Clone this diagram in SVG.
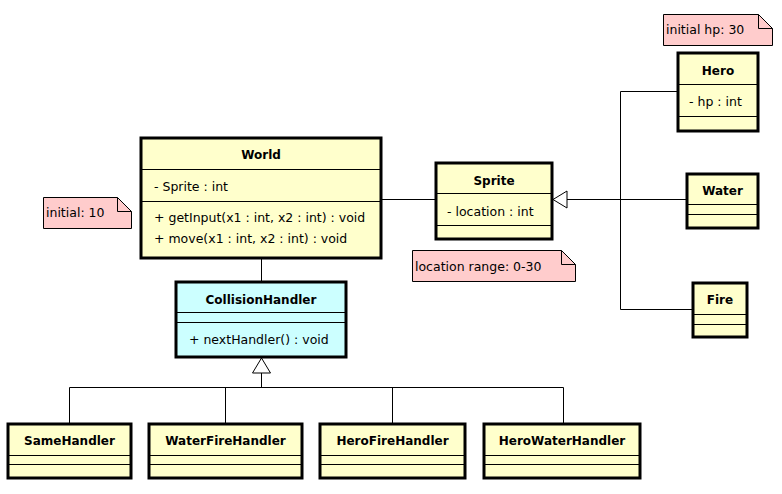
<svg xmlns="http://www.w3.org/2000/svg" width="782" height="494" viewBox="0 0 782 494">
<style>
.cls{fill:#ffffcc;stroke:#000;stroke-width:3}
.cls2{fill:#ccffff;stroke:#000;stroke-width:3}
.div{stroke:#000;stroke-width:1}
.t{font-family:"DejaVu Sans",Verdana,sans-serif;font-size:12px;font-weight:bold;text-anchor:middle;fill:#000}
.a{font-family:"DejaVu Sans",Verdana,sans-serif;font-size:12.5px;fill:#000}
.note{fill:#ffcccc;stroke:#000;stroke-width:1}
.c{fill:none;stroke:#000;stroke-width:1}
</style>
<rect width="782" height="494" fill="#fff"/>
<g id="connectors">
<path class="c" d="M381.5,199.5H436"/>
<path class="c" d="M567,199.5H687"/>
<path class="c" d="M677,91.5H620.5V309.5H692"/>
<path class="c" d="M261.5,258V281"/>
<path class="c" d="M261.5,373V387.5M69.5,423V387.5H563.5V423M225.5,387.5V423M392.5,387.5V423"/>
<path d="M553,199.5L567,191V208Z" fill="#fff" stroke="#000"/>
<path d="M261.5,358L252.5,373H270.5Z" fill="#fff" stroke="#000"/>
</g>
<g id="World">
<rect class="cls" x="141" y="138" width="240" height="120"/>
<line class="div" x1="141" y1="169.5" x2="381" y2="169.5"/>
<line class="div" x1="141" y1="201.5" x2="381" y2="201.5"/>
<text class="t" x="261" y="159">World</text>
<text class="a" x="154" y="191">- Sprite : int</text>
<text class="a" x="154" y="222">+ getInput(x1 : int, x2 : int) : void</text>
<text class="a" x="154" y="243">+ move(x1 : int, x2 : int) : void</text>
</g>
<g id="note-world">
<path class="note" d="M43.5,197.5H117.5L131.5,211.5V228.5H43.5Z"/>
<path class="c" d="M117.5,197.5V211.5H131.5"/>
<text class="a" x="46" y="217">initial: 10</text>
</g>
<g id="Sprite">
<rect class="cls" x="436" y="163" width="116" height="76"/>
<line class="div" x1="436" y1="193.5" x2="552" y2="193.5"/>
<line class="div" x1="436" y1="225.5" x2="552" y2="225.5"/>
<text class="t" x="494" y="185">Sprite</text>
<text class="a" x="447" y="216">- location : int</text>
</g>
<g id="note-sprite">
<path class="note" d="M412.5,250.5H561.5L575.5,264.5V281.5H412.5Z"/>
<path class="c" d="M561.5,250.5V264.5H575.5"/>
<text class="a" x="415" y="271">location range: 0-30</text>
</g>
<g id="Hero">
<rect class="cls" x="678" y="53" width="80" height="78"/>
<line class="div" x1="678" y1="84.5" x2="758" y2="84.5"/>
<line class="div" x1="678" y1="116.5" x2="758" y2="116.5"/>
<text class="t" x="718" y="75">Hero</text>
<text class="a" x="689" y="106">- hp : int</text>
</g>
<g id="note-hero">
<path class="note" d="M663.5,14.5H758.5L772.5,28.5V45.5H663.5Z"/>
<path class="c" d="M758.5,14.5V28.5H772.5"/>
<text class="a" x="666" y="34">initial hp: 30</text>
</g>
<g id="Water">
<rect class="cls" x="687" y="174" width="71" height="54"/>
<line class="div" x1="687" y1="204.5" x2="758" y2="204.5"/>
<line class="div" x1="687" y1="214.5" x2="758" y2="214.5"/>
<text class="t" x="722.5" y="195">Water</text>
</g>
<g id="Fire">
<rect class="cls" x="693" y="283" width="54" height="54"/>
<line class="div" x1="693" y1="314.5" x2="747" y2="314.5"/>
<line class="div" x1="693" y1="324.5" x2="747" y2="324.5"/>
<text class="t" x="720" y="304">Fire</text>
</g>
<g id="CollisionHandler">
<rect class="cls2" x="176" y="282" width="170" height="75"/>
<line class="div" x1="176" y1="312.5" x2="346" y2="312.5"/>
<line class="div" x1="176" y1="322.5" x2="346" y2="322.5"/>
<text class="t" x="261" y="304">CollisionHandler</text>
<text class="a" x="189" y="344">+ nextHandler() : void</text>
</g>
<g id="SameHandler">
<rect class="cls" x="8" y="424" width="123" height="54"/>
<line class="div" x1="8" y1="455.5" x2="131" y2="455.5"/>
<line class="div" x1="8" y1="464.5" x2="131" y2="464.5"/>
<text class="t" x="69.5" y="445">SameHandler</text>
</g>
<g id="WaterFireHandler">
<rect class="cls" x="149" y="424" width="153" height="54"/>
<line class="div" x1="149" y1="455.5" x2="302" y2="455.5"/>
<line class="div" x1="149" y1="464.5" x2="302" y2="464.5"/>
<text class="t" x="225.5" y="445">WaterFireHandler</text>
</g>
<g id="HeroFireHandler">
<rect class="cls" x="320" y="424" width="145" height="54"/>
<line class="div" x1="320" y1="455.5" x2="465" y2="455.5"/>
<line class="div" x1="320" y1="464.5" x2="465" y2="464.5"/>
<text class="t" x="392.5" y="445">HeroFireHandler</text>
</g>
<g id="HeroWaterHandler">
<rect class="cls" x="484" y="424" width="156" height="54"/>
<line class="div" x1="484" y1="455.5" x2="640" y2="455.5"/>
<line class="div" x1="484" y1="464.5" x2="640" y2="464.5"/>
<text class="t" x="562" y="445">HeroWaterHandler</text>
</g>
</svg>
